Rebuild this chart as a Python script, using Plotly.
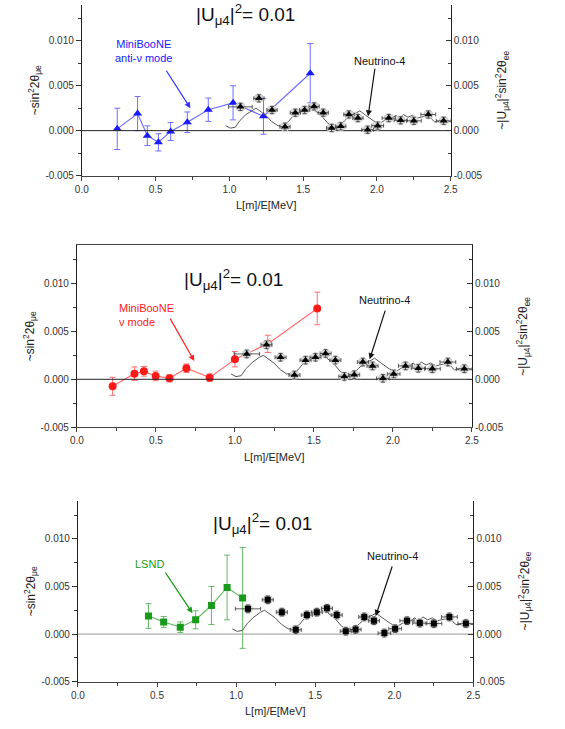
import plotly.graph_objects as go

W, H = 565, 729

# ---------------- data ----------------
# Neutrino-4 points (L/E, amplitude) with errors
n4_x = [1.075, 1.20, 1.289, 1.377, 1.447, 1.51, 1.574, 1.636, 1.693, 1.755,
        1.81, 1.871, 1.937, 2.005, 2.08, 2.161, 2.25, 2.348, 2.452]
n4_y = [0.00265, 0.0036, 0.0023, 0.00044, 0.0020, 0.0023, 0.0027, 0.0020, 0.0003, 0.00048,
        0.0018, 0.0014, 0.0001, 0.00056, 0.0014, 0.00115, 0.0011, 0.0018, 0.0011]
n4_xerr = [0.08, 0.035, 0.035, 0.035, 0.035, 0.035, 0.035, 0.035, 0.035, 0.035,
           0.035, 0.035, 0.04, 0.04, 0.045, 0.045, 0.05, 0.05, 0.05]
n4_yerr = [0.0004] * 19

# Neutrino-4 oscillation curve
curve_x = [0.976, 1.007, 1.04, 1.072, 1.113, 1.155, 1.18, 1.206, 1.247, 1.288,
           1.329, 1.36, 1.40, 1.44, 1.48, 1.545, 1.575, 1.627, 1.668, 1.709,
           1.75, 1.78, 1.82, 1.863, 1.884, 1.925, 1.976, 2.017, 2.038, 2.058,
           2.10, 2.13, 2.15, 2.18, 2.21, 2.24, 2.27, 2.30, 2.35, 2.37,
           2.39, 2.45, 2.5]
curve_y = [0.00055, 0.00028, 0.00038, 0.00114, 0.0018, 0.0023, 0.0025, 0.0022, 0.0017, 0.0010,
           0.00055, 0.00055, 0.0010, 0.0018, 0.0023, 0.0025, 0.0023, 0.0016, 0.0008, 0.00045,
           0.0006, 0.0011, 0.0017, 0.0020, 0.0022, 0.0017, 0.0011, 0.0008, 0.0010, 0.0012,
           0.0014, 0.0017, 0.0013, 0.0018, 0.0015, 0.0017, 0.0014, 0.0015, 0.0017, 0.0013,
           0.0010, 0.0010, 0.0010]

# MiniBooNE anti-neutrino mode
mba_x = [0.24, 0.378, 0.444, 0.519, 0.602, 0.715, 0.857, 1.025, 1.231, 1.548]
mba_y = [0.0002, 0.0019, -0.00056, -0.0013, -0.0001, 0.00093, 0.00233, 0.0031, 0.0016, 0.0064]
mba_err = [0.0023, 0.0019, 0.0011, 0.00096, 0.0010, 0.00115, 0.0013, 0.0019, 0.0020, 0.0033]

# MiniBooNE neutrino mode
mbn_x = [0.226, 0.364, 0.424, 0.498, 0.586, 0.693, 0.84, 1.0, 1.208, 1.521]
mbn_y = [-0.00073, 0.00059, 0.00083, 0.00035, 0.0001, 0.00115, 0.00017, 0.0021, 0.0037, 0.0074]
mbn_err = [0.00094, 0.0007, 0.0005, 0.0005, 0.00037, 0.00045, 0.0004, 0.0008, 0.0009, 0.0017]

# LSND
lsnd_x = [0.446, 0.542, 0.647, 0.744, 0.844, 0.943, 1.041]
lsnd_y = [0.0019, 0.00128, 0.00072, 0.0015, 0.0030, 0.0049, 0.0038]
lsnd_err = [0.0013, 0.00057, 0.00055, 0.00095, 0.0020, 0.0034, 0.0053]

x_ticks = [0.0, 0.5, 1.0, 1.5, 2.0, 2.5]
y_ticks = [-0.005, 0.0, 0.005, 0.010]
X_RANGE = [0, 2.5]
Y_RANGE = [-0.005, 0.014]

FONT = "Liberation Sans, Arial, sans-serif"

# panel boxes in pixels: (left, right, top, bottom)
panels = [
    (76.7, 455.0, 5.0, 177.0),
    (71.7, 476.7, 247.3, 430.7),
    (72.7, 478.3, 505.0, 687.3),
]

fig = go.Figure()
layout = dict(
    width=W, height=H, margin=dict(l=0, r=0, t=0, b=0),
    paper_bgcolor="white", plot_bgcolor="white",
    showlegend=False, font=dict(family=FONT, color="#222", size=10),
)
annotations = []

ylab_left = "~sin<sup>2</sup>2θ<sub>μe</sub>"
ylab_right = "~|U<sub>μ4</sub>|<sup>2</sup>sin<sup>2</sup>2θ<sub>ee</sub>"
title_txt = "|U<sub>μ4</sub>|<sup>2</sup>= 0.01"

for i, (l, r, t, b) in enumerate(panels):
    k = i + 1
    xa = "xaxis" if k == 1 else f"xaxis{k}"
    xr = "x" if k == 1 else f"x{k}"
    yl_n = 2 * i + 1
    yr_n = 2 * i + 2
    ya_l = "yaxis" if yl_n == 1 else f"yaxis{yl_n}"
    yr_l = "y" if yl_n == 1 else f"y{yl_n}"
    ya_r = f"yaxis{yr_n}"
    yr_r = f"y{yr_n}"
    xd = [l / W, r / W]
    yd = [1 - b / H, 1 - t / H]
    layout[xa] = dict(
        domain=xd, anchor=yr_l, range=X_RANGE, showgrid=False, zeroline=False,
        showline=True, linecolor="#444", linewidth=1,
        mirror=(k == 2),
        tickvals=x_ticks, ticktext=[f"{v:.1f}" for v in x_ticks],
        ticks="outside", ticklen=4, tickcolor="#444",
        minor=dict(dtick=0.25, tick0=0, ticks="outside", ticklen=3, tickcolor="#444"),
        tickfont=dict(size=10, color="#333"),
    )
    common_y = dict(
        domain=yd, range=Y_RANGE, showgrid=False, zeroline=False,
        showline=True, linecolor="#222", linewidth=1,
        tickvals=y_ticks, ticktext=[f"{v:.3f}" for v in y_ticks],
        ticklen=5, tickcolor="#333",
        tickfont=dict(size=10, color="#333"),
    )
    layout[ya_l] = dict(common_y, anchor=xr, side="left", ticks="outside",
                        minor=dict(dtick=0.0025, tick0=0, ticks="outside", ticklen=3, tickcolor="#333"))
    layout[ya_r] = dict(common_y, anchor=xr, side="right", overlaying=yr_l, ticks="inside",
                        minor=dict(dtick=0.0025, tick0=0, ticks="inside", ticklen=3, tickcolor="#333"))

    # zero line
    zcol = "#222" if k < 3 else "#999"
    fig.add_trace(go.Scatter(x=X_RANGE, y=[0, 0], xaxis=xr, yaxis=yr_r, mode="lines",
                             line=dict(color=zcol, width=1), hoverinfo="skip"))

    # Neutrino-4 curve
    fig.add_trace(go.Scatter(x=curve_x, y=curve_y, xaxis=xr, yaxis=yr_r, mode="lines",
                             line=dict(color="#555", width=1), hoverinfo="skip"))

    # Neutrino-4 points: gray halo + black marker with error bars
    fig.add_trace(go.Scatter(x=n4_x, y=n4_y, xaxis=xr, yaxis=yr_r, mode="markers",
                             marker=dict(symbol="circle", size=10, color="#d4d4d4"),
                             hoverinfo="skip"))
    n4_sym = "square" if k == 3 else "triangle-up"
    fig.add_trace(go.Scatter(
        x=n4_x, y=n4_y, xaxis=xr, yaxis=yr_r, mode="markers",
        marker=dict(symbol=n4_sym, size=6 if k == 3 else 7, color="black"),
        error_x=dict(type="data", array=n4_xerr, color="#333", thickness=0.8, width=2),
        error_y=dict(type="data", array=n4_yerr, color="#333", thickness=0.8, width=2),
    ))

    # experiment series on the left axis
    if k == 1:
        sx, sy, se = mba_x, mba_y, mba_err
        lcol, mcol, sym, ms = "#6f6fff", "#1a1aff", "triangle-up", 8
    elif k == 2:
        sx, sy, se = mbn_x, mbn_y, mbn_err
        lcol, mcol, sym, ms = "#ff6f6f", "#ff1a1a", "circle", 8
    else:
        sx, sy, se = lsnd_x, lsnd_y, lsnd_err
        lcol, mcol, sym, ms = "#66bb66", "#1a9a1a", "square", 7
    fig.add_trace(go.Scatter(
        x=sx, y=sy, xaxis=xr, yaxis=yr_l, mode="lines+markers",
        line=dict(color=lcol, width=1.2),
        marker=dict(symbol=sym, size=ms, color=mcol),
        error_y=dict(type="data", array=se, color=lcol, thickness=1, width=3),
    ))

    # panel title
    tx = [1.11, 0.99, 1.167][i]
    ty = [0.0129, 0.0104, 0.0116][i]
    annotations.append(dict(x=tx, y=ty, xref=xr, yref=yr_l, text=title_txt, showarrow=False,
                            font=dict(size=19, color="#111")))

    # axis titles
    annotations.append(dict(x=(l + r) / 2 / W, y=1 - (b + 30) / H, xref="paper", yref="paper",
                            xanchor="center", yanchor="middle",
                            text="L[m]/E[MeV]", showarrow=False, font=dict(size=11, color="#222")))
    ymid = 1 - ((t + b) / 2) / H
    annotations.append(dict(x=(l - 48) / W, y=ymid, xref="paper", yref="paper", text=ylab_left,
                            xanchor="center", yanchor="middle",
                            textangle=-90, showarrow=False, font=dict(size=12, color="#222")))
    annotations.append(dict(x=(r + 53) / W, y=ymid, xref="paper", yref="paper", text=ylab_right,
                            xanchor="center", yanchor="middle",
                            textangle=-90, showarrow=False, font=dict(size=12, color="#222")))

# labels and arrows
lab_specs = [
    # panel 1
    dict(x=0.42, y=0.0089, xref="x", yref="y", text="MiniBooNE<br>anti-ν mode",
         font=dict(size=11, color="#1a1aff"), showarrow=False, align="center"),
    dict(x=0.736, y=0.0025, xref="x", yref="y", ax=-25, ay=-39, text="", showarrow=True,
         arrowcolor="#3333ff", arrowhead=2, arrowsize=1, arrowwidth=1.2),
    dict(x=2.02, y=0.0078, xref="x", yref="y", text="Neutrino-4",
         font=dict(size=11, color="#111"), showarrow=False),
    dict(x=1.94, y=0.0016, xref="x", yref="y", ax=7, ay=-49, text="", showarrow=True,
         arrowcolor="#111", arrowhead=2, arrowsize=1, arrowwidth=1.2),
    # panel 2
    dict(x=0.253, y=0.0067, xref="x2", yref="y3", text="MiniBooNE<br>ν mode",
         font=dict(size=11, color="#ff1a1a"), showarrow=False, align="left", xanchor="left"),
    dict(x=0.743, y=0.0019, xref="x2", yref="y3", ax=-25, ay=-44, text="", showarrow=True,
         arrowcolor="#ff2222", arrowhead=2, arrowsize=1, arrowwidth=1.2),
    dict(x=1.95, y=0.0083, xref="x2", yref="y3", text="Neutrino-4",
         font=dict(size=11, color="#111"), showarrow=False),
    dict(x=1.853, y=0.0021, xref="x2", yref="y3", ax=16, ay=-50, text="", showarrow=True,
         arrowcolor="#111", arrowhead=2, arrowsize=1, arrowwidth=1.2),
    # panel 3
    dict(x=0.452, y=0.0074, xref="x3", yref="y5", text="LSND",
         font=dict(size=11, color="#1a9a1a"), showarrow=False),
    dict(x=0.724, y=0.0022, xref="x3", yref="y5", ax=-28, ay=-42, text="", showarrow=True,
         arrowcolor="#1a9a1a", arrowhead=2, arrowsize=1, arrowwidth=1.2),
    dict(x=1.987, y=0.0082, xref="x3", yref="y5", text="Neutrino-4",
         font=dict(size=11, color="#111"), showarrow=False),
    dict(x=1.882, y=0.0019, xref="x3", yref="y5", ax=17, ay=-51, text="", showarrow=True,
         arrowcolor="#111", arrowhead=2, arrowsize=1, arrowwidth=1.2),
]
annotations.extend(lab_specs)
layout["annotations"] = annotations

fig.update_layout(**layout)
fig.write_html("out.html")
